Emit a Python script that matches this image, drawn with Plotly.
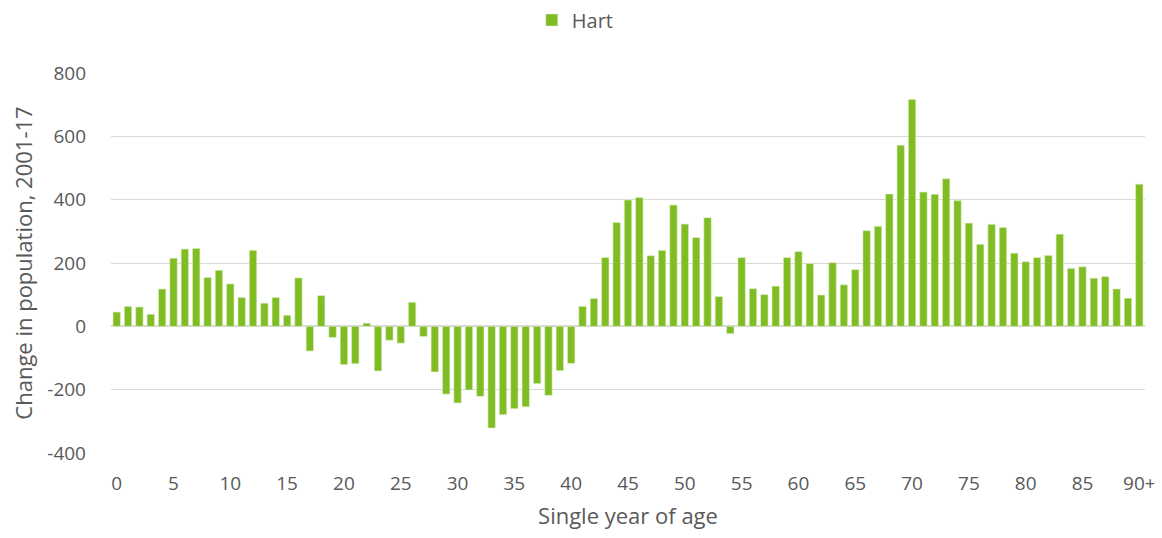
import plotly.graph_objects as go

ages = [str(i) for i in range(90)] + ["90+"]
hart = [45, 63, 61, 38, 118, 215, 244, 246, 154, 177,
        134, 91, 240, 73, 91, 35, 153, -78, 97, -35,
        -121, -118, 10, -141, -44, -53, 76, -32, -144, -214,
        -242, -201, -221, -321, -279, -260, -254, -181, -218, -140,
        -117, 63, 88, 217, 328, 399, 407, 223, 240, 383,
        323, 280, 343, 94, -23, 217, 119, 100, 127, 217,
        236, 198, 99, 201, 131, 179, 302, 316, 418, 572,
        716, 424, 417, 466, 397, 326, 259, 322, 312, 231,
        204, 217, 224, 291, 183, 188, 152, 157, 118, 89,
        449]
x_tick_labels = [str(i) for i in range(0, 90, 5)] + ["90+"]
y_tick_vals = [-400, -200, 0, 200, 400, 600, 800]
y_tick_text = ["-400", "-200", "0", "200", "400", "600", "800"]

font_family = "'Open Sans', sans-serif"
text_color = "#595959"

W, H = 1150, 522

fig = go.Figure()
fig.add_trace(go.Bar(
    x=ages, y=hart, name="Hart",
    marker=dict(color="#80BC24", line=dict(color="#DDEFC4", width=0.6)),
))

fig.update_layout(
    width=W, height=H,
    margin=dict(l=103, r=13, t=65, b=77),
    paper_bgcolor="white", plot_bgcolor="white",
    bargap=0.35,
    showlegend=True,
    legend=dict(orientation="h", x=0.449, xanchor="center",
                y=1 - 12 / H, yanchor="middle", yref="container",
                font=dict(size=20, color=text_color, family=font_family)),
    font=dict(family=font_family, color=text_color),
    xaxis=dict(
        type="category", automargin=False,
        tickmode="array", tickvals=x_tick_labels, ticktext=x_tick_labels,
        tickfont=dict(size=19, color=text_color),
        showgrid=False, showline=False, ticks="",
        ticklabelstandoff=17,
        title=dict(text="Single year of age", font=dict(size=22, color=text_color), standoff=21),
    ),
    yaxis=dict(
        range=[-400, 800], tickvals=y_tick_vals, ticktext=y_tick_text, automargin=False,
        tickfont=dict(size=19, color=text_color),
        showgrid=True, gridcolor="#D9D9D9", gridwidth=1.3,
        zeroline=True, zerolinecolor="#D9D9D9", zerolinewidth=1.6,
        ticks="", ticklabelstandoff=24,
        title=dict(text="Change in population, 2001-17", font=dict(size=22, color=text_color), standoff=22),
    ),
)

fig.write_html("out.html")
